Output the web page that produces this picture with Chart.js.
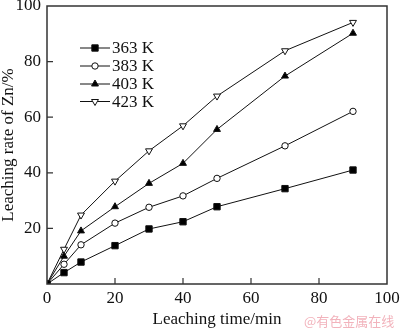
<!DOCTYPE html>
<html>
<head>
<meta charset="utf-8">
<script src="https://cdn.jsdelivr.net/npm/chart.js@4.4.0/dist/chart.umd.min.js"></script>
<style>
    html, body { margin: 0; padding: 0; background: #fff; }
</style>
</head>
<body>
<canvas id="myChart" width="400" height="329"></canvas>
<script>
// leaching time (min) and Zn leaching rate (%) at each temperature
const times = [0, 5, 10, 20, 30, 40, 50, 70, 90];
const rate_363 = [0, 4.1, 7.9, 13.8, 19.8, 22.4, 27.8, 34.3, 41.0];
const rate_383 = [0, 7.1, 14.1, 21.9, 27.6, 31.7, 38.0, 49.7, 62.1];
const rate_403 = [0, 10.0, 19.1, 27.8, 36.2, 43.4, 55.6, 74.8, 90.2];
const rate_423 = [0, 12.5, 24.8, 37.0, 47.9, 56.9, 67.6, 83.9, 94.1];
const series_labels = ['363 K', '383 K', '403 K', '423 K'];

const x_ticks = [0, 20, 40, 60, 80, 100];
const y_ticks = [20, 40, 60, 80, 100];

const serif = '"Liberation Serif", "Times New Roman", serif';

function toPoints(values) {
    return values.map((v, i) => ({ x: times[i], y: v }));
}

const styles = [
    { pointStyle: 'rect', radius: 4.5, fill: '#000', rotation: 0 },
    { pointStyle: 'circle', radius: 3.2, fill: '#fff', rotation: 0 },
    { pointStyle: 'triangle', radius: 4, fill: '#000', rotation: 0 },
    { pointStyle: 'triangle', radius: 4, fill: '#fff', rotation: 180 }
];

const series = [rate_363, rate_383, rate_403, rate_423];

const datasets = series.map((values, i) => ({
    label: series_labels[i],
    data: toPoints(values),
    borderColor: '#111',
    borderWidth: 1,
    pointStyle: styles[i].pointStyle,
    pointRadius: styles[i].radius,
    pointRotation: styles[i].rotation,
    pointBackgroundColor: styles[i].fill,
    pointBorderColor: '#111',
    pointBorderWidth: 1,
    tension: 0,
    fill: false
}));

// box around the plot, inward ticks, legend and watermark
const framePlugin = {
    id: 'frame',
    afterDraw(chart) {
        const ctx = chart.ctx;
        const area = chart.chartArea;
        const xs = chart.scales.x;
        const ys = chart.scales.y;

        ctx.save();
        ctx.strokeStyle = '#333';
        ctx.lineWidth = 1.5;
        ctx.strokeRect(area.left, area.top, area.right - area.left, area.bottom - area.top);

        ctx.lineWidth = 1.2;
        ctx.beginPath();
        x_ticks.slice(1, -1).forEach(t => {
            const px = xs.getPixelForValue(t);
            ctx.moveTo(px, area.bottom);
            ctx.lineTo(px, area.bottom - 6);
        });
        y_ticks.slice(0, -1).forEach(t => {
            const py = ys.getPixelForValue(t);
            ctx.moveTo(area.left, py);
            ctx.lineTo(area.left + 6, py);
        });
        ctx.stroke();

        // legend
        const rows = [48, 66, 84, 101.5];
        ctx.font = '17px ' + serif;
        ctx.textBaseline = 'middle';
        ctx.textAlign = 'left';
        chart.data.datasets.forEach((ds, i) => {
            const y = rows[i];
            ctx.strokeStyle = '#111';
            ctx.lineWidth = 1;
            ctx.beginPath();
            ctx.moveTo(80, y);
            ctx.lineTo(110, y);
            ctx.stroke();
            ctx.fillStyle = ds.pointBackgroundColor;
            ctx.strokeStyle = '#111';
            Chart.helpers.drawPoint(ctx, {
                pointStyle: ds.pointStyle,
                radius: ds.pointRadius,
                rotation: ds.pointRotation,
                borderWidth: 1
            }, 95, y);
            ctx.fillStyle = '#111';
            ctx.fillText(ds.label, 112, y + 1);
        });

        ctx.font = '13px "Noto Sans CJK SC", sans-serif';
        ctx.fillStyle = '#f2b3bc';
        ctx.fillText('@有色金属在线', 304, 321);
        ctx.restore();
    }
};

const config = {
    type: 'line',
    data: { datasets: datasets },
    options: {
        responsive: false,
        animation: false,
        layout: { padding: { top: 6, right: 13, left: 0, bottom: 0 } },
        plugins: {
            legend: { display: false },
            tooltip: { enabled: false }
        },
        scales: {
            x: {
                type: 'linear',
                min: 0,
                max: 100,
                afterBuildTicks: scale => { scale.ticks = x_ticks.map(v => ({ value: v })); },
                afterFit: scale => {
                    scale.height = 45;
                    scale.paddingLeft = 0;
                    scale.paddingRight = 0;
                },
                grid: { display: false, drawTicks: false },
                border: { display: false },
                ticks: {
                    color: '#111',
                    padding: 4,
                    maxRotation: 0,
                    font: { family: serif, size: 17 }
                },
                title: {
                    display: true,
                    text: 'Leaching time/min',
                    color: '#111',
                    font: { family: serif, size: 17, lineHeight: 1 },
                    padding: { top: 0, bottom: 0.5 }
                }
            },
            y: {
                type: 'linear',
                min: 0,
                max: 100,
                afterBuildTicks: scale => { scale.ticks = y_ticks.map(v => ({ value: v })); },
                afterFit: scale => {
                    scale.width = 47;
                    scale.paddingTop = 0;
                    scale.paddingBottom = 0;
                },
                grid: { display: false, drawTicks: false },
                border: { display: false },
                ticks: {
                    color: '#111',
                    padding: 6,
                    font: { family: serif, size: 17 }
                },
                title: {
                    display: true,
                    text: 'Leaching rate of Zn/%',
                    color: '#111',
                    font: { family: serif, size: 17, lineHeight: 1 },
                    padding: { top: 0.5, bottom: 0 }
                }
            }
        }
    },
    plugins: [framePlugin]
};

const ctx = document.getElementById('myChart').getContext('2d');
const myChart = new Chart(ctx, config);
</script>
</body>
</html>
